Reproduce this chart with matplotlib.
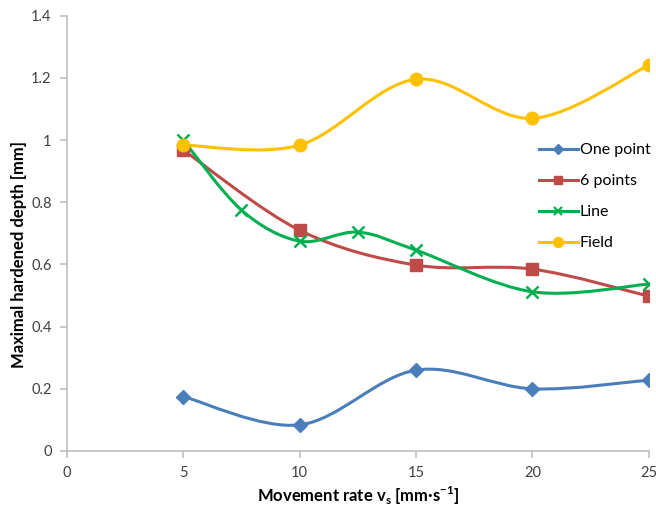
import matplotlib.pyplot as plt
from matplotlib.path import Path
from matplotlib.patches import PathPatch
from matplotlib.lines import Line2D

plt.rcParams['font.family'] = ['Lato', 'DejaVu Sans']

rate = [5, 10, 15, 20, 25]
rate_line = [5, 7.5, 10, 12.5, 15, 20, 25]

one_point = [0.175, 0.084, 0.26, 0.20, 0.228]
six_points = [0.968, 0.71, 0.598, 0.585, 0.498]
line = [1.0, 0.775, 0.675, 0.704, 0.646, 0.512, 0.537]
field = [0.984, 0.984, 1.196, 1.07, 1.241]

series = [
    ('One point', rate, one_point, '#4a7ebb', 'D', 7),
    ('6 points', rate, six_points, '#be4b48', 's', 8),
    ('Line', rate_line, line, '#00b050', 'x', 8),
    ('Field', rate, field, '#ffc000', 'o', 9),
]


def smooth_path(xs, ys):
    # excel-like smoothed line: bezier through the points
    pts = list(zip(xs, ys))
    verts = [pts[0]]
    codes = [Path.MOVETO]
    n = len(pts)
    for i in range(n - 1):
        p0 = pts[i - 1] if i > 0 else pts[i]
        p1 = pts[i]
        p2 = pts[i + 1]
        p3 = pts[i + 2] if i + 2 < n else pts[i + 1]
        c1 = (p1[0] + (p2[0] - p0[0]) / 6, p1[1] + (p2[1] - p0[1]) / 6)
        c2 = (p2[0] - (p3[0] - p1[0]) / 6, p2[1] - (p3[1] - p1[1]) / 6)
        verts += [c1, c2, p2]
        codes += [Path.CURVE4] * 3
    return Path(verts, codes)


fig = plt.figure(figsize=(6.56, 5.09), dpi=100)
ax = fig.add_axes([0.102, 0.114, 0.887, 0.855])

handles = []
for name, xs, ys, col, mk, ms in series:
    ax.add_patch(PathPatch(smooth_path(xs, ys), facecolor='none',
                           edgecolor=col, lw=2.2, zorder=2))
    ax.plot(xs, ys, linestyle='none', marker=mk, color=col, markersize=ms,
            markeredgewidth=1.8 if mk == 'x' else 1, zorder=3)
    handles.append(Line2D([], [], color=col, lw=2.2, marker=mk, markersize=ms * 0.8,
                          markeredgewidth=1.6 if mk == 'x' else 1, label=name))

ax.set_xlim(0, 25)
ax.set_ylim(0, 1.4)
ax.set_xticks([0, 5, 10, 15, 20, 25])
ax.set_yticks([0, 0.2, 0.4, 0.6, 0.8, 1.0, 1.2, 1.4])
ax.set_yticklabels(['0', '0.2', '0.4', '0.6', '0.8', '1', '1.2', '1.4'])
for s in ['top', 'right']:
    ax.spines[s].set_visible(False)
for s in ['left', 'bottom']:
    ax.spines[s].set_color('#bfbfbf')
    ax.spines[s].set_linewidth(1.2)
ax.tick_params(colors='#bfbfbf', labelcolor='#404040', labelsize=10.5,
               length=5, width=1.2)
ax.tick_params(axis='x', pad=6)
ax.tick_params(axis='y', pad=6)

ax.set_xlabel('Movement rate v$_\\mathregular{s}$ [mm·s$^\\mathregular{-1}$]',
              fontsize=12, fontweight='bold', labelpad=3)
ax.set_ylabel('Maximal hardened depth [mm]', fontsize=12, fontweight='bold')
ax.yaxis.set_label_coords(27 / 656, 0.5, transform=fig.transFigure)

fig.legend(handles=handles, loc='upper left', bbox_to_anchor=(0.8, 0.747),
           frameon=False, fontsize=11.5, handlelength=2.4, handletextpad=0.15,
           labelspacing=1.05)

fig.savefig('out.png', dpi=100)
